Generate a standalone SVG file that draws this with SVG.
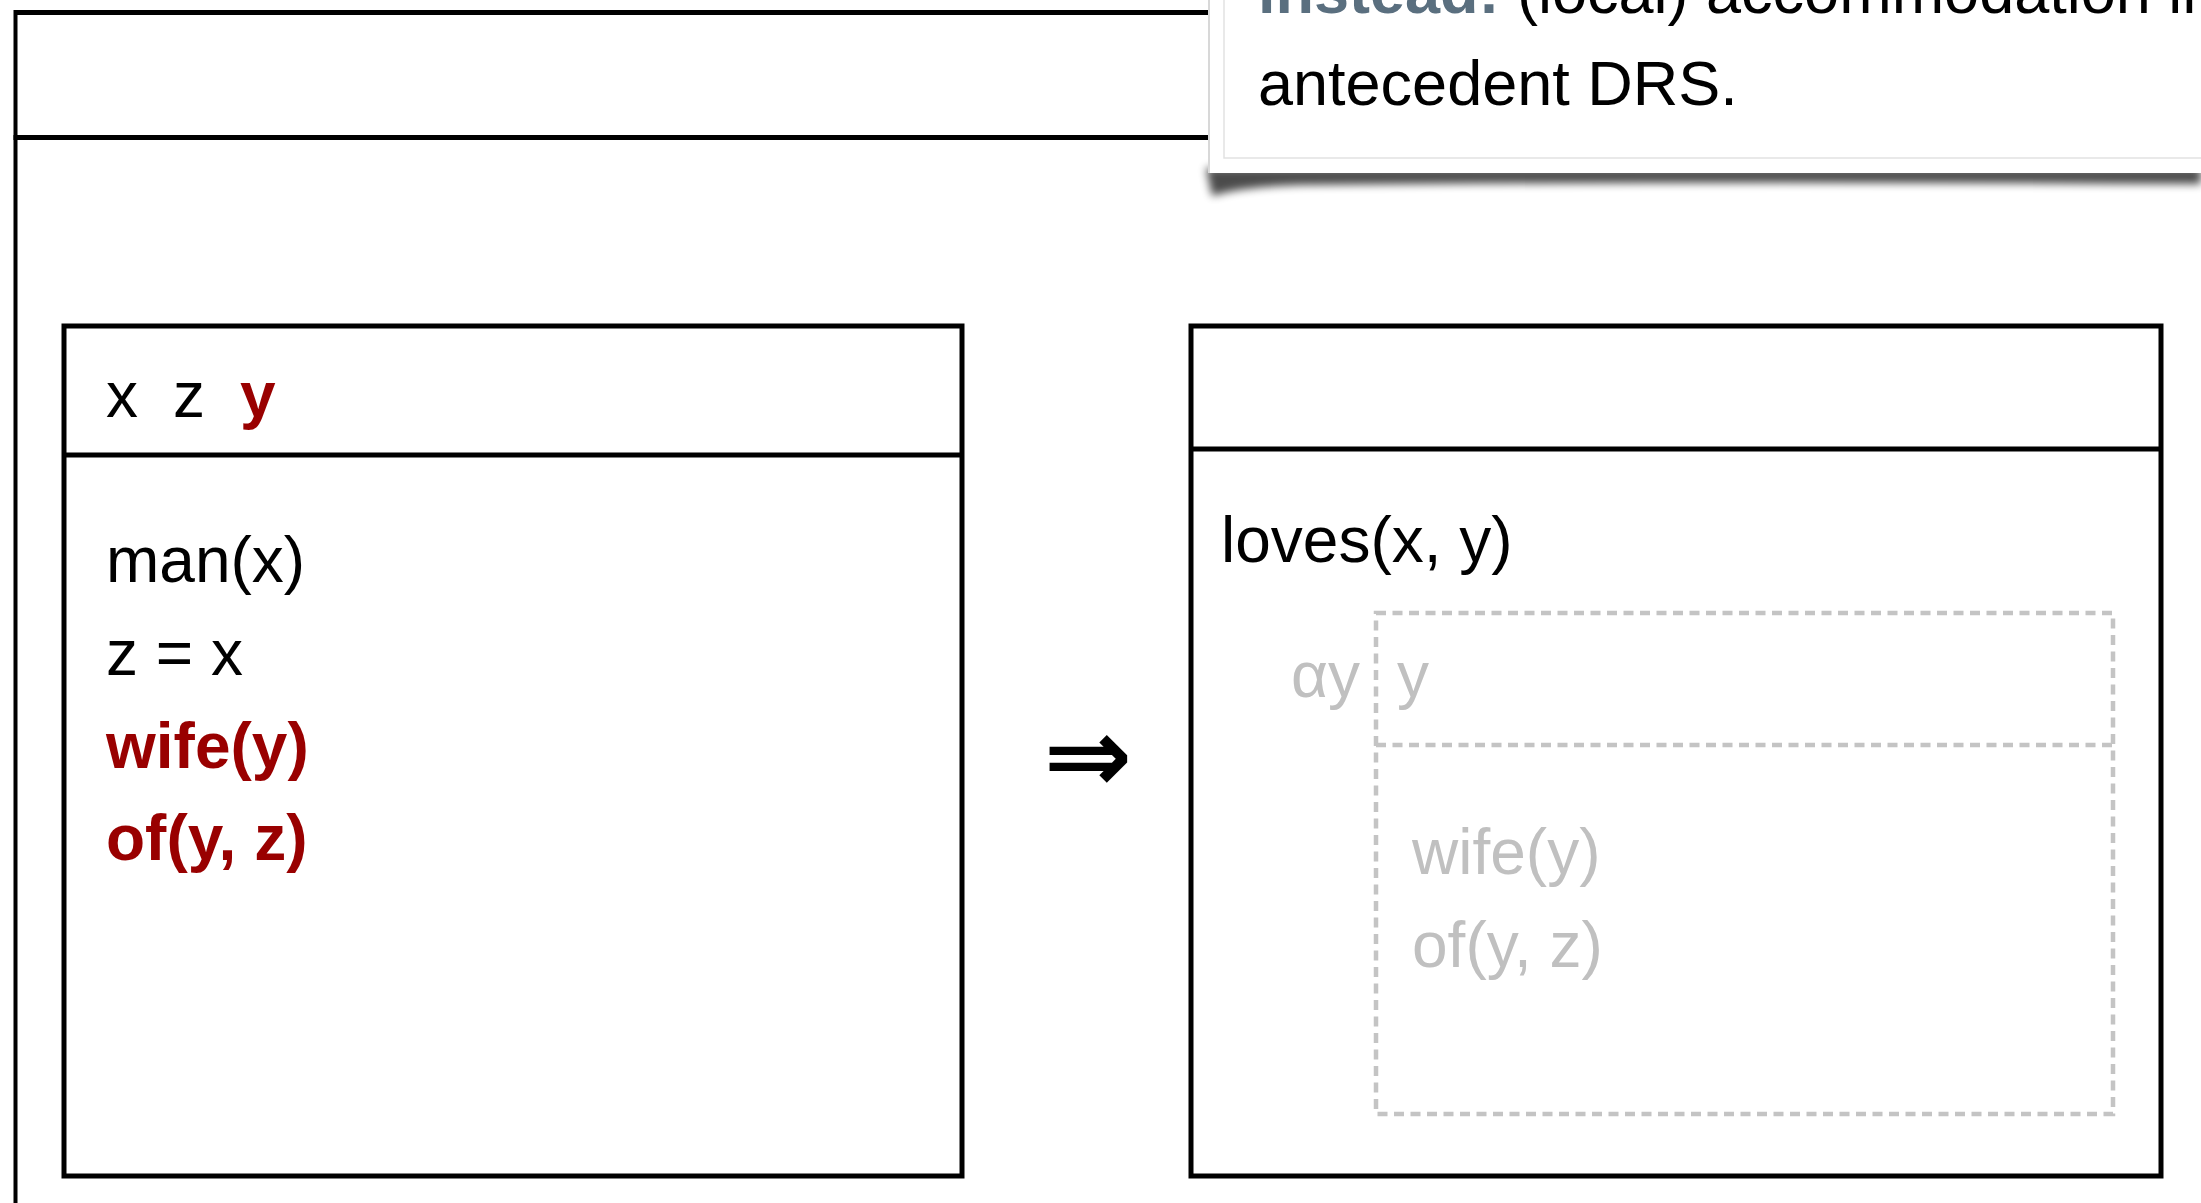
<svg xmlns="http://www.w3.org/2000/svg" width="2201" height="1203" viewBox="0 0 2201 1203">
  <style>
    .t { font-family: "Liberation Sans", Arial, Helvetica, sans-serif; font-size: 64px; fill: #000; }
    .red { fill: #990000; font-weight: bold; }
    .gray { fill: #c0c0c0; }
    .box { fill: none; stroke: #000; stroke-width: 5; }
    .sep { stroke: #000; stroke-width: 5; }
    .dash { fill: none; stroke: #c4c4c4; stroke-width: 4.5; stroke-dasharray: 10 6.5; }
    .slate { fill: #5a6f7f; font-weight: bold; }
  </style>
  <defs>
    <filter id="blur" x="-5%" y="-100%" width="110%" height="300%">
      <feGaussianBlur stdDeviation="4"/>
    </filter>
  </defs>
  <rect width="2201" height="1203" fill="#fff"/>

  <g id="outer-drs">
    <line x1="15.5" y1="12.5" x2="2201" y2="12.5" stroke="#000" stroke-width="5"/>
    <line x1="15.5" y1="10" x2="15.5" y2="1203" stroke="#000" stroke-width="4"/>
    <line x1="13.5" y1="137.5" x2="2201" y2="137.5" stroke="#000" stroke-width="5"/>
  </g>

  <g id="left-drs">
    <rect class="box" x="64" y="326" width="898" height="850"/>
    <line class="sep" x1="62" y1="455" x2="964" y2="455"/>
    <text class="t" x="106" y="417">x</text>
    <text class="t" x="173" y="417">z</text>
    <text class="t red" x="240" y="417">y</text>
    <text class="t" x="106" y="582">man(x)</text>
    <text class="t" x="106" y="675">z = x</text>
    <text class="t red" x="106" y="768">wife(y)</text>
    <text class="t red" x="106" y="860">of(y, z)</text>
  </g>

  <g id="connectors">
    <text x="1088" y="792" text-anchor="middle" style="font-family: 'DejaVu Sans', sans-serif; font-size: 106px; font-weight: bold; fill: #000;">⇒</text>
  </g>

  <g id="right-drs">
    <rect class="box" x="1191" y="326" width="970" height="850"/>
    <line class="sep" x1="1189" y1="449" x2="2163" y2="449"/>
    <text class="t" x="1221" y="562">loves(x, y)</text>
  </g>

  <g id="accommodated-drs">
    <rect class="dash" x="1376" y="613" width="737" height="501"/>
    <line class="dash" x1="1376" y1="745" x2="2113" y2="745"/>
    <text class="t gray" x="1291" y="697">αy</text>
    <text class="t gray" x="1397" y="697">y</text>
    <text class="t gray" x="1412" y="874">wife(y)</text>
    <text class="t gray" x="1412" y="967">of(y, z)</text>
  </g>

  <g id="popup">
    <path d="M1206,168 L2201,168 L2201,184 Q1700,181 1300,185 Q1240,187 1212,196 Z" fill="#000" opacity="0.7" filter="url(#blur)"/>
    <rect x="1208" y="-10" width="1000" height="183" fill="#fff"/>
    <line x1="1209" y1="0" x2="1209" y2="173" stroke="#d8d8d8" stroke-width="2"/>
    <rect x="1224" y="-10" width="990" height="168" fill="none" stroke="#e2e2e2" stroke-width="1.5"/>
    <text class="t" x="1258" y="12.5" style="font-size:63px"><tspan class="slate">instead:</tspan> (local) accommodation in</text>
    <text class="t" x="1258" y="105" style="font-size:63px">antecedent DRS.</text>
  </g>
</svg>
